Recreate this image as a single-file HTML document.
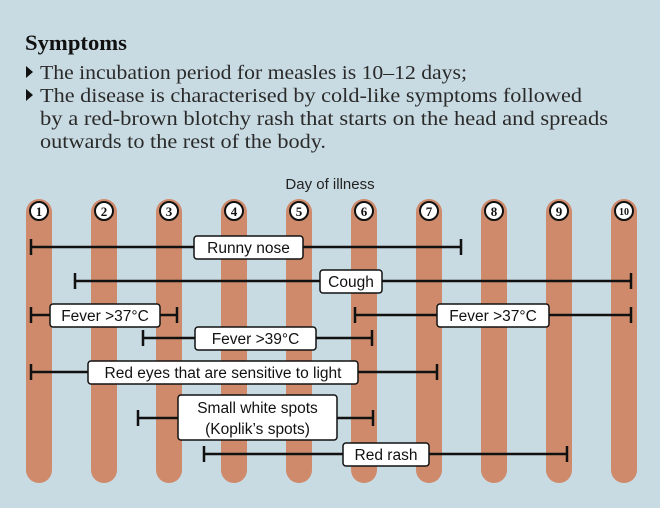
<!DOCTYPE html>
<html><head><meta charset="utf-8"><style>
html,body{margin:0;padding:0;background:#c9dbe2;}
svg{display:block}
</style></head><body>
<svg width="660" height="508" xmlns="http://www.w3.org/2000/svg">
<rect width="660" height="508" fill="#c9dbe2"/>
<text x="25" y="50" font-family="Liberation Serif" font-weight="bold" font-size="22" fill="#111" textLength="102" lengthAdjust="spacingAndGlyphs">Symptoms</text>
<g font-family="Liberation Serif" font-size="19.5" fill="#2a2a2a">
<path d="M26 66 L33 72 L26 78 Z" fill="#111"/>
<path d="M26 89 L33 95 L26 101 Z" fill="#111"/>
<text x="40" y="79" textLength="427" lengthAdjust="spacingAndGlyphs">The incubation period for measles is 10–12 days;</text>
<text x="40" y="102" textLength="542" lengthAdjust="spacingAndGlyphs">The disease is characterised by cold-like symptoms followed</text>
<text x="40" y="125" textLength="568" lengthAdjust="spacingAndGlyphs">by a red-brown blotchy rash that starts on the head and spreads</text>
<text x="40" y="148" textLength="286" lengthAdjust="spacingAndGlyphs">outwards to the rest of the body.</text>
</g>
<text x="330" y="189" text-anchor="middle" font-family="Liberation Sans" font-size="15" fill="#222">Day of illness</text>
<g fill="#cf8a6b">
<rect x="26" y="199" width="26" height="284" rx="13"/>
<rect x="91" y="199" width="26" height="284" rx="13"/>
<rect x="156" y="199" width="26" height="284" rx="13"/>
<rect x="221" y="199" width="26" height="284" rx="13"/>
<rect x="286" y="199" width="26" height="284" rx="13"/>
<rect x="351" y="199" width="26" height="284" rx="13"/>
<rect x="416" y="199" width="26" height="284" rx="13"/>
<rect x="481" y="199" width="26" height="284" rx="13"/>
<rect x="546" y="199" width="26" height="284" rx="13"/>
<rect x="611" y="199" width="26" height="284" rx="13"/>
</g>
<g fill="#fff" stroke="#111" stroke-width="2">
<circle cx="39" cy="211" r="9"/><circle cx="104" cy="211" r="9"/><circle cx="169" cy="211" r="9"/><circle cx="234" cy="211" r="9"/><circle cx="299" cy="211" r="9"/><circle cx="364" cy="211" r="9"/><circle cx="429" cy="211" r="9"/><circle cx="494" cy="211" r="9"/><circle cx="559" cy="211" r="9"/><circle cx="624" cy="211" r="9"/>
</g>
<g font-family="Liberation Serif" font-weight="bold" font-size="13" fill="#111" text-anchor="middle">
<text x="39" y="216">1</text><text x="104" y="216">2</text><text x="169" y="216">3</text><text x="234" y="216">4</text><text x="299" y="216">5</text><text x="364" y="216">6</text><text x="429" y="216">7</text><text x="494" y="216">8</text><text x="559" y="216">9</text><text x="624" y="215" font-size="10">10</text>
</g>
<g stroke="#111" stroke-width="2.5" fill="none">
<path d="M31 247H461M31 239v16M461 239v16"/>
<path d="M75 281H631M75 273v16M631 273v16"/>
<path d="M31 315H177M31 307v16M177 307v16"/>
<path d="M355 315H631M355 307v16M631 307v16"/>
<path d="M143 338H372M143 330v16M372 330v16"/>
<path d="M31 372H437M31 364v16M437 364v16"/>
<path d="M138 418H373M138 410v16M373 410v16"/>
<path d="M204 454H567M204 446v16M567 446v16"/>
</g>
<g fill="#fff" stroke="#111" stroke-width="1.5">
<rect x="194" y="236" width="109" height="23" rx="3"/>
<rect x="320" y="270" width="62" height="23" rx="3"/>
<rect x="50" y="304" width="110" height="23" rx="3"/>
<rect x="437" y="304" width="112" height="23" rx="3"/>
<rect x="195" y="327" width="121" height="23" rx="3"/>
<rect x="88" y="361" width="270" height="23" rx="3"/>
<rect x="178" y="395" width="159" height="45" rx="3"/>
<rect x="343" y="443" width="86" height="23" rx="3"/>
</g>
<g font-family="Liberation Sans" font-size="15.5" fill="#111" text-anchor="middle">
<text x="248.5" y="253">Runny nose</text>
<text x="351" y="287">Cough</text>
<text x="105" y="321">Fever &gt;37°C</text>
<text x="493" y="321">Fever &gt;37°C</text>
<text x="255.5" y="344">Fever &gt;39°C</text>
<text x="223" y="378">Red eyes that are sensitive to light</text>
<text x="257.5" y="413">Small white spots</text>
<text x="257.5" y="434">(Koplik’s spots)</text>
<text x="386" y="460">Red rash</text>
</g>
</svg>
</body></html>
